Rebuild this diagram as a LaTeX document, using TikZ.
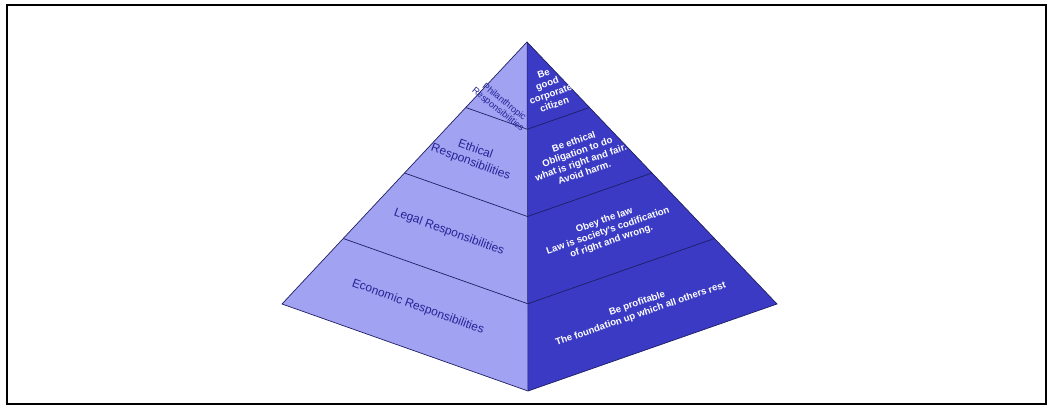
\documentclass[tikz,border=0pt]{standalone}
\usepackage{fontspec}
\setmainfont{Liberation Sans}
\usetikzlibrary{calc}
\definecolor{leftface}{RGB}{162,162,242}
\definecolor{rightface}{RGB}{58,58,196}
\definecolor{edgecol}{RGB}{30,30,100}
\definecolor{lefttext}{RGB}{36,36,150}
\tikzset{
  lefttxt/.style={text=lefttext, align=center, font=\fontsize{12}{13.5}\selectfont, rotate=-20, inner sep=0pt},
  righttxt/.style={text=white, align=center, font=\bfseries\fontsize{9.6}{11}\selectfont, rotate=19, inner sep=0pt},
  layerline/.style={draw=edgecol, line width=0.7pt},
}
\begin{document}
\begin{tikzpicture}[x=1pt,y=-1pt]
\useasboundingbox (0,0) rectangle (1053,406);
\draw[line width=2.2pt] (7,5) rectangle (1046,404);
\coordinate (A) at (527,42);
\coordinate (L) at (282,304);
\coordinate (R) at (777,304);
\coordinate (B) at (528,391);
\fill[leftface] (A) -- (L) -- (B) -- cycle;
\fill[rightface] (A) -- (B) -- (R) -- cycle;
\foreach \t/\n in {0.25/a,0.5/b,0.75/c}{
  \coordinate (l\n) at ($(A)!\t!(L)$);
  \coordinate (m\n) at ($(A)!\t!(B)$);
  \coordinate (r\n) at ($(A)!\t!(R)$);
  \draw[layerline] (l\n) -- (m\n) -- (r\n);
}
\draw[layerline] (A) -- (L) -- (B) -- (R) -- cycle;
\draw[draw=edgecol, line width=0.5pt] (A) -- (B);
% left texts
\node[lefttxt, font=\fontsize{9.2}{10}\selectfont, rotate=-19] (phil) at (501,106) {Philanthropic\\Responsibilities};
\node[lefttxt] (eth) at (473,156) {Ethical\\Responsibilities};
\node[lefttxt] (leg) at (449,232) {Legal Responsibilities};
\node[lefttxt] (eco) at (418,307) {Economic Responsibilities};
% right texts
\begin{scope}
\clip (A) -- (B) -- (R) -- cycle;
\node[righttxt] (good) at (549,89) {Be\\good\\corporate\\citizen};
\node[righttxt] (beeth) at (579,157) {Be ethical\\Obligation to do\\what is right and fair.\\Avoid harm.};
\node[righttxt] (law) at (608,231) {Obey the law\\Law is society's codification\\of right and wrong.};
\node[righttxt] (prof) at (639,309) {Be profitable\\The foundation up which all others rest};
\end{scope}
\end{tikzpicture}
\end{document}
